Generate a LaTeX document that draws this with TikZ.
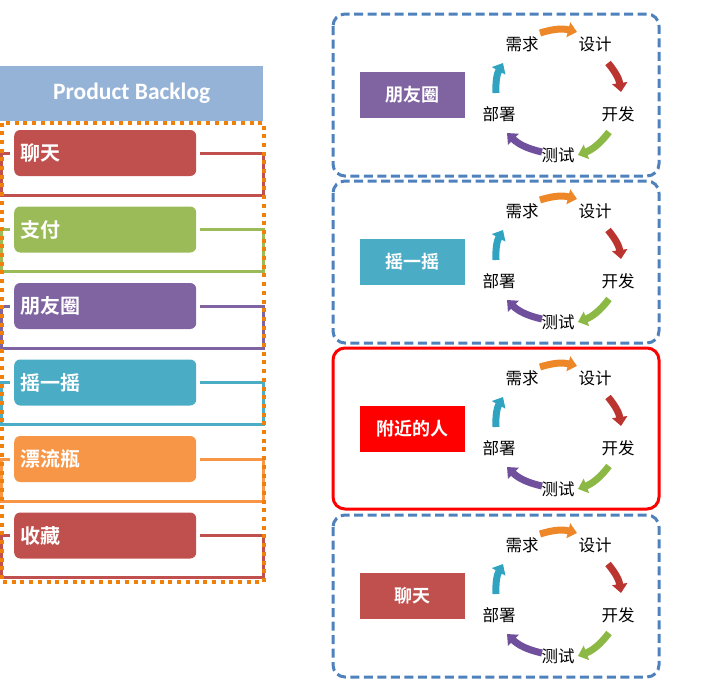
\documentclass[tikz,border=0pt]{standalone}
\usepackage{fontspec}
\setmainfont{Carlito}
\newfontfamily\cjk{Noto Sans CJK SC}[BoldFont={Noto Sans CJK SC Bold}]
\usetikzlibrary{arrows.meta}
\begin{document}
\begin{tikzpicture}[x=1pt,y=-1pt,
  item/.style={fill=#1,rounded corners=6pt,anchor=west,minimum height=46pt,text width=170pt,
    inner xsep=6pt,inner ysep=0pt,align=left,text=white,font=\cjk\bfseries\fontsize{20}{22}\selectfont},
  bracket/.style={draw=#1,line width=3pt},
  panel/.style={draw=cBlue,line width=3pt,rounded corners=12pt,dash pattern=on 9pt off 4.5pt},
  hotpanel/.style={draw=red,line width=3pt,rounded corners=12pt},
  tag/.style={fill=#1,minimum width=105pt,minimum height=46pt,inner sep=0pt,text=white,
    font=\cjk\bfseries\fontsize{18}{20}\selectfont},
  phase/.style={inner sep=0pt,font=\cjk\fontsize{16.5}{18}\selectfont},
  turn/.style={draw=#1,line width=7pt,-{Triangle[width=15pt,length=9pt]},bend left=16}]
\definecolor{cRed}{RGB}{192,80,77}
\definecolor{cGreen}{RGB}{155,187,89}
\definecolor{cPurple}{RGB}{128,100,162}
\definecolor{cCyan}{RGB}{75,172,198}
\definecolor{cOrange}{RGB}{247,150,70}
\definecolor{cHead}{RGB}{149,179,215}
\definecolor{cBlue}{RGB}{79,129,189}
\definecolor{cDots}{RGB}{240,128,10}
\definecolor{cArrO}{RGB}{238,135,40}
\definecolor{cArrR}{RGB}{186,52,48}
\definecolor{cArrG}{RGB}{140,184,70}
\definecolor{cArrP}{RGB}{112,80,156}
\definecolor{cArrC}{RGB}{48,163,193}
\path[use as bounding box] (0,0) rectangle (703,688);

% backlog column
\node[fill=cHead,minimum width=263pt,minimum height=55pt,inner sep=0pt,anchor=north west,
  text=white,font=\bfseries\fontsize{23.5}{26}\selectfont] (head) at (0,66) {Product Backlog};

\foreach \lab/\col [count=\i] in {聊天/cRed,支付/cGreen,朋友圈/cPurple,摇一摇/cCyan,漂流瓶/cOrange,收藏/cRed} {
  \node[item=\col] (b\i) at (14,{76.5*(\i+1)}) {\lab};
  \draw[bracket=\col] ([xshift=-4pt]b\i.west) -| ++(-9,42) -| ([xshift=67pt]b\i.east) -- ([xshift=4pt]b\i.east);
}

\draw[line width=4pt,draw=cDots,dash pattern=on 4pt off 4.7pt] (1.5,122.5) rectangle (264,582);

% sprint panels
\draw[panel] (333,14) rectangle (659,176);
\draw[panel] (333,181) rectangle (659,343);
\draw[hotpanel] (333,348) rectangle (659,509);
\draw[panel] (333,515) rectangle (659,677);

\foreach \t/\lab/\col [count=\i] in {14/朋友圈/cPurple,181/摇一摇/cCyan,348/附近的人/red,515/聊天/cRed} {
  \node[tag=\col] (t\i) at (412,\t+80.5) {\lab};
  \coordinate (o\i) at (558,\t+83);
  \node[phase] (xq\i) at ([shift={(-36,-53)}]o\i) {需求};
  \node[phase] (sj\i) at ([shift={(37,-53)}]o\i) {设计};
  \node[phase] (kf\i) at ([shift={(60,17)}]o\i) {开发};
  \node[phase] (cs\i) at ([shift={(0,58)}]o\i) {测试};
  \node[phase] (bs\i) at ([shift={(-59,17)}]o\i) {部署};
  \draw[turn=cArrO] ([shift={(-18,-64)}]o\i) to ([shift={(19,-65)}]o\i);
  \draw[turn=cArrR] ([shift={(50,-34)}]o\i) to ([shift={(63,-5)}]o\i);
  \draw[turn=cArrG] ([shift={(51,35)}]o\i) to ([shift={(20,58)}]o\i);
  \draw[turn=cArrP] ([shift={(-16,55)}]o\i) to ([shift={(-51,36)}]o\i);
  \draw[turn=cArrC] ([shift={(-62,-4)}]o\i) to ([shift={(-55,-34)}]o\i);
}
\end{tikzpicture}
\end{document}
